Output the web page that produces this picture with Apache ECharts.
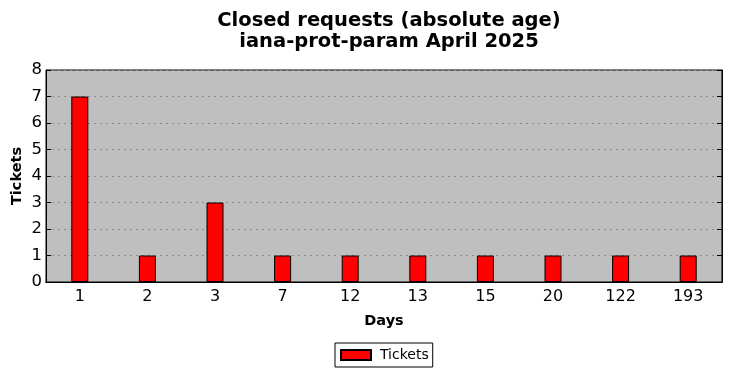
<!DOCTYPE html>
<html><head><meta charset="utf-8">
<script src="https://cdn.jsdelivr.net/npm/echarts@6/dist/echarts.min.js"></script>
<style>html,body{margin:0;padding:0;background:#fff}#c{width:732px;height:378px}</style>
</head><body><div id="c"></div>
<script>
const categories = ['1','2','3','7','12','13','15','20','122','193'];
const tickets = [7,1,3,1,1,1,1,1,1,1];
const yTicks = [0,1,2,3,4,5,6,7,8];
const titleLines = ['Closed requests (absolute age)','iana-prot-param April 2025'];

const F = 'DejaVu Sans';
const chart = echarts.init(document.getElementById('c'));
chart.setOption({
  animation:false,
  title:{text:titleLines.join('\n'),left:384,textAlign:'center',top:5,
    textStyle:{fontFamily:F,fontSize:19.5,fontWeight:'bold',color:'#000',lineHeight:21.5}},
  grid:{left:46,right:10,top:70,bottom:96,containLabel:false,outerBoundsMode:'none',
    backgroundColor:'#bfbfbf',show:true,borderColor:'#000',borderWidth:1},
  legend:{top:343,left:335,data:[{name:'Tickets',icon:'rect'}],itemWidth:30,itemHeight:10,itemGap:8,
    borderColor:'#000',borderWidth:1,padding:[5,4,5,5],borderRadius:0,
    textStyle:{fontFamily:F,fontSize:14,color:'#000',padding:[0,0,0,4]}},
  xAxis:[{type:'category',data:categories,position:'bottom',
    name:'Days',nameLocation:'middle',nameGap:32,nameMoveOverlap:false,
    nameTextStyle:{fontFamily:F,fontSize:14.5,fontWeight:'bold',color:'#000'},
    axisLine:{lineStyle:{color:'#000'}},
    axisTick:{inside:true,alignWithLabel:true,length:5,lineStyle:{color:'#000'}},
    axisLabel:{fontFamily:F,fontSize:16,color:'#000',margin:7}},
   {type:'category',data:categories,position:'top',
    axisLine:{lineStyle:{color:'#000'}},
    axisTick:{inside:true,alignWithLabel:true,length:5,lineStyle:{color:'#000'}},
    axisLabel:{show:false}}],
  yAxis:[{type:'value',min:0,max:8,interval:1,
    name:'Tickets',nameLocation:'middle',nameGap:21,nameMoveOverlap:false,
    nameTextStyle:{fontFamily:F,fontSize:14.5,fontWeight:'bold',color:'#000'},
    axisLine:{show:true,lineStyle:{color:'#000'}},
    axisTick:{show:true,inside:true,length:5,lineStyle:{color:'#000'}},
    axisLabel:{fontFamily:F,fontSize:16.5,color:'#000',margin:4,
      formatter:v=>yTicks.includes(v)?String(v):''},
    splitLine:{show:true,lineStyle:{color:'#8a8a8a',type:[2,4],width:1}}},
   {type:'value',min:0,max:8,interval:1,position:'right',
    axisLine:{show:true,lineStyle:{color:'#000'}},
    axisTick:{show:true,inside:true,length:5,lineStyle:{color:'#000'}},
    axisLabel:{show:false},splitLine:{show:false}}],
  series:[{name:'Tickets',type:'bar',data:tickets,barWidth:17,
    itemStyle:{color:'#ff0000',borderColor:'#000',borderWidth:1}}]
});
</script></body></html>
